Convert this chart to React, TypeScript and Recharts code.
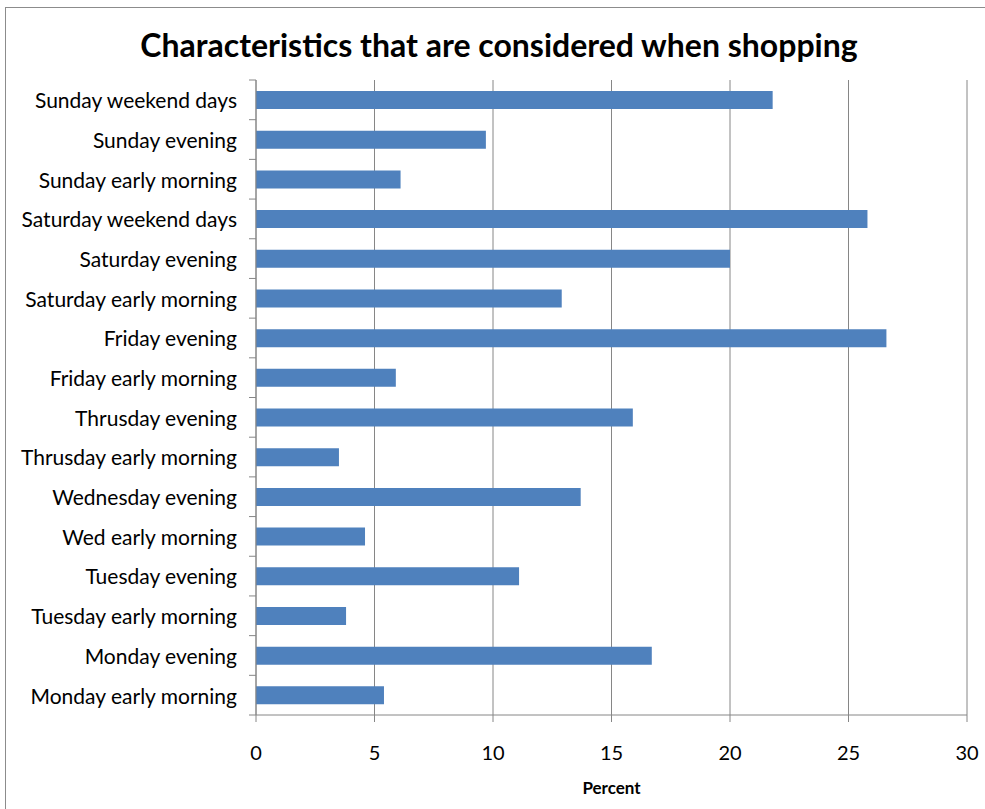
import React from 'react';
import { BarChart, Bar, XAxis, YAxis, CartesianGrid } from 'recharts';

// Time slots, listed top to bottom as they appear on the category axis
const categories: string[] = [
  'Sunday weekend days',
  'Sunday evening',
  'Sunday early morning',
  'Saturday weekend days',
  'Saturday evening',
  'Saturday early morning',
  'Friday evening',
  'Friday early morning',
  'Thrusday evening',
  'Thrusday early morning',
  'Wednesday evening',
  'Wed early morning',
  'Tuesday evening',
  'Tuesday early morning',
  'Monday evening',
  'Monday early morning',
];

// Share of respondents (percent) for each time slot
const percents: number[] = [
  21.8, 9.7, 6.1, 25.8, 20.0, 12.9, 26.6, 5.9,
  15.9, 3.5, 13.7, 4.6, 11.1, 3.8, 16.7, 5.4,
];

const xTicks: number[] = [0, 5, 10, 15, 20, 25, 30];

const data = categories.map((name, i) => ({ name, value: percents[i] }));

const WIDTH = 985;
const HEIGHT = 809;
const MARGIN = { top: 80, right: 18, bottom: 30, left: 0 };
const X_AXIS_HEIGHT = 64;
const Y_AXIS_WIDTH = 256;
const PLOT_HEIGHT = HEIGHT - MARGIN.top - MARGIN.bottom - X_AXIS_HEIGHT;
const BAND = PLOT_HEIGHT / categories.length;

const FONT = 'Lato, "Open Sans", sans-serif';
const AXIS_GREY = '#868686';
const TICK_LEN = 7;
const TICK_GAP = 12;

// Category label plus tick marks placed on the band boundaries
function CategoryTick(props: any) {
  const { x, y, payload, index, visibleTicksCount } = props;
  const lineX1 = x + TICK_GAP;
  const lineX2 = lineX1 + TICK_LEN;
  const isLast = index === visibleTicksCount - 1;
  return (
    <g>
      <line x1={lineX1} x2={lineX2} y1={y - BAND / 2} y2={y - BAND / 2} stroke={AXIS_GREY} strokeWidth={1} />
      {isLast && (
        <line x1={lineX1} x2={lineX2} y1={y + BAND / 2} y2={y + BAND / 2} stroke={AXIS_GREY} strokeWidth={1} />
      )}
      <text x={x} y={y + 1} dy="0.35em" textAnchor="end" fill="#000" fontSize={21} fontFamily={FONT}>
        {payload.value}
      </text>
    </g>
  );
}

export default function App() {
  return (
    <div
      style={{
        position: 'absolute',
        left: 0,
        top: 0,
        width: WIDTH,
        height: HEIGHT,
        overflow: 'hidden',
        background: '#fff',
      }}
    >
      <div
        style={{
          position: 'absolute',
          left: 5,
          top: 7,
          width: WIDTH + 20,
          height: HEIGHT + 20,
          border: '1px solid #8c8c8c',
        }}
      />
      <div
        style={{
          position: 'absolute',
          left: 0,
          top: 25,
          width: 998,
          textAlign: 'center',
          fontFamily: FONT,
          fontWeight: 700,
          fontSize: 32,
          lineHeight: '40px',
          color: '#000',
        }}
      >
        Characteristics that are considered when shopping
      </div>
      <div style={{ position: 'absolute', left: 0, top: 0 }}>
        <BarChart
          width={WIDTH}
          height={HEIGHT}
          data={data}
          layout="vertical"
          margin={MARGIN}
          barSize={18}
        >
          <CartesianGrid horizontal={false} vertical stroke={AXIS_GREY} strokeWidth={1} />
          <XAxis
            type="number"
            domain={[0, 30]}
            ticks={xTicks}
            interval={0}
            height={X_AXIS_HEIGHT}
            tickSize={TICK_LEN}
            tickMargin={24}
            axisLine={{ stroke: AXIS_GREY }}
            tickLine={{ stroke: AXIS_GREY }}
            tick={{ fill: '#000', fontSize: 20, fontFamily: FONT }}
            label={{
              value: 'Percent',
              position: 'insideBottom',
              offset: -15,
              fill: '#000',
              fontSize: 17,
              fontWeight: 700,
              fontFamily: FONT,
            }}
          />
          <YAxis
            type="category"
            dataKey="name"
            width={Y_AXIS_WIDTH}
            interval={0}
            tickSize={TICK_LEN}
            tickMargin={TICK_GAP}
            axisLine={{ stroke: AXIS_GREY }}
            tickLine={false}
            tick={<CategoryTick />}
          />
          <Bar dataKey="value" fill="#4F81BD" isAnimationActive={false} />
        </BarChart>
      </div>
    </div>
  );
}
